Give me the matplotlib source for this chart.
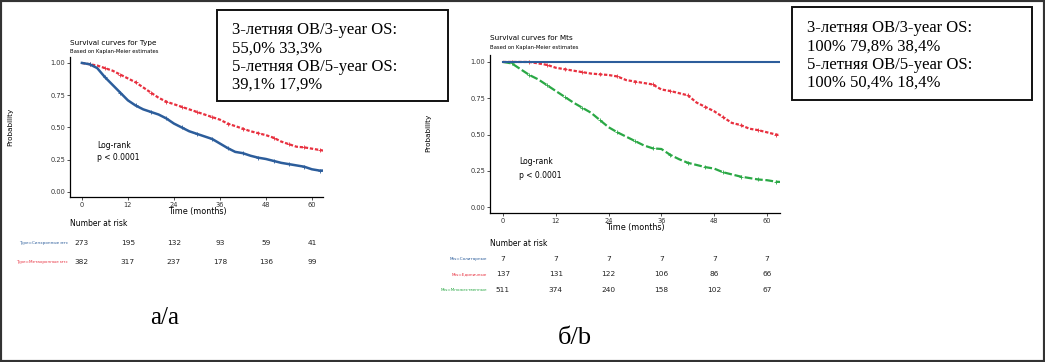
import numpy as np
import matplotlib
matplotlib.use("Agg")
import matplotlib.pyplot as plt
import matplotlib.transforms as mtransforms
from matplotlib.patches import Rectangle

W, H = 1045, 362

# ____ données
months = [0, 2, 4, 6, 8, 10, 12, 14, 16, 18, 20, 22, 24, 26, 28, 30,
          32, 34, 36, 38, 40, 42, 44, 46, 48, 50, 52, 54, 56, 58, 60, 62, 63]

type_sync = [1.00, 0.99, 0.96, 0.89, 0.83, 0.77, 0.71, 0.67, 0.64, 0.62, 0.60, 0.57,
             0.53, 0.50, 0.47, 0.45, 0.43, 0.41, 0.375, 0.34, 0.31, 0.30, 0.28, 0.265,
             0.255, 0.24, 0.225, 0.215, 0.205, 0.195, 0.175, 0.165, 0.165]
type_meta = [1.00, 0.99, 0.98, 0.96, 0.94, 0.91, 0.88, 0.85, 0.81, 0.77, 0.73, 0.70,
             0.68, 0.66, 0.64, 0.62, 0.60, 0.58, 0.56, 0.53, 0.51, 0.49, 0.47, 0.455,
             0.44, 0.42, 0.39, 0.37, 0.35, 0.345, 0.335, 0.325, 0.32]

mts_sol = [1.00] * len(months)
mts_single = [1.00, 1.00, 1.00, 1.00, 0.99, 0.98, 0.96, 0.95, 0.94, 0.93, 0.92, 0.915,
              0.91, 0.90, 0.875, 0.865, 0.855, 0.845, 0.81, 0.80, 0.785, 0.77, 0.72, 0.69,
              0.66, 0.62, 0.58, 0.565, 0.54, 0.53, 0.515, 0.50, 0.495]
mts_multi = [1.00, 0.99, 0.95, 0.91, 0.88, 0.84, 0.80, 0.76, 0.72, 0.685, 0.65, 0.60,
             0.55, 0.515, 0.485, 0.455, 0.425, 0.405, 0.40, 0.36, 0.33, 0.305, 0.29, 0.275,
             0.265, 0.24, 0.225, 0.21, 0.20, 0.19, 0.185, 0.175, 0.173]

risk_times = [0, 12, 24, 36, 48, 60]
risk_type = {"Type=Синхронные мтс": [273, 195, 132, 93, 59, 41],
             "Type=Метахронные мтс": [382, 317, 237, 178, 136, 99]}
risk_mts = {"Mts=Солитарные": [7, 7, 7, 7, 7, 7],
            "Mts=Единичные": [137, 131, 122, 106, 86, 66],
            "Mts=Множественные": [511, 374, 240, 158, 102, 67]}

box_a = "3-летняя ОВ/3-year OS:\n55,0% 33,3%\n5-летняя ОВ/5-year OS:\n39,1% 17,9%"
box_b = "3-летняя ОВ/3-year OS:\n100% 79,8% 38,4%\n5-летняя ОВ/5-year OS:\n100% 50,4% 18,4%"

BLUE, RED, GREEN = "#2c5d9b", "#e8303f", "#2aa845"

fig = plt.figure(figsize=(W / 100, H / 100), dpi=100)


def px(x, y):
    return x / W, 1 - y / H


def make_axes(left, right, top, bottom, xlim, ylim):
    ax = fig.add_axes([left / W, 1 - bottom / H, (right - left) / W, (bottom - top) / H])
    ax.set_xlim(*xlim)
    ax.set_ylim(*ylim)
    ax.spines['top'].set_visible(False)
    ax.spines['right'].set_visible(False)
    ax.spines['left'].set_linewidth(0.9)
    ax.spines['bottom'].set_linewidth(0.9)
    ax.set_xticks(risk_times)
    ax.set_yticks([0, 0.25, 0.5, 0.75, 1.0])
    ax.set_yticklabels(["0.00", "0.25", "0.50", "0.75", "1.00"])
    ax.tick_params(labelsize=4.8, length=2, width=0.6, pad=1.5, colors="#333333")
    ax.set_facecolor("none")
    return ax


def km(ax, s, color, ls, lw=1.6):
    ax.plot(months, s, color=color, ls=ls, lw=lw)
    ax.plot(months[1:-1:2], s[1:-1:2], ls="none", marker="+", ms=2.5, mew=0.6, color=color)


# ______ panneau a
ax1 = make_axes(70, 323, 56.5, 197, (-3.1, 62.9), (-0.04, 1.05))
km(ax1, type_meta, RED, (0, (1.5, 0.8)))
km(ax1, type_sync, BLUE, "-", 1.8)
ax1.text(4, 0.34, "Log-rank", fontsize=5.5)
ax1.text(4, 0.25, "p < 0.0001", fontsize=5.5)

fig.text(*px(70, 43), "Survival curves for Type", fontsize=5.2, va="center")
fig.text(*px(70, 52), "Based on Kaplan-Meier estimates", fontsize=3.8, va="center")
fig.text(*px(10, 127), "Probability", fontsize=5.2, rotation=90, ha="center", va="center")
fig.text(*px(197, 212), "Time (months)", fontsize=5.8, ha="center", va="center")
fig.text(*px(70, 224), "Number at risk", fontsize=5.5, va="center")

tr1 = mtransforms.blended_transform_factory(ax1.transData, fig.transFigure)
for i, (lab, vals) in enumerate(risk_type.items()):
    y = 1 - (243 + i * 19) / H
    fig.text(68 / W, y, lab, fontsize=3.0, color=[BLUE, RED][i], ha="right", va="center")
    for t, v in zip(risk_times, vals):
        ax1.text(t, y, str(v), transform=tr1, fontsize=5.3, ha="center", va="center",
                 color="#222222")

fig.text(*px(165, 318), "а/a", fontsize=18, family="Liberation Serif", ha="center", va="center")

# ______ panneau b
ax2 = make_axes(490, 780, 54.7, 213, (-2.95, 62.95), (-0.041, 1.05))
km(ax2, mts_single, RED, (0, (1.5, 0.8)))
km(ax2, mts_multi, GREEN, (0, (3.5, 1.2)))
ax2.plot(months, mts_sol, color=BLUE, lw=1.5)
ax2.text(3.6, 0.30, "Log-rank", fontsize=5.5)
ax2.text(3.6, 0.20, "p < 0.0001", fontsize=5.5)

fig.text(*px(490, 38), "Survival curves for Mts", fontsize=5.2, va="center")
fig.text(*px(490, 48), "Based on Kaplan-Meier estimates", fontsize=3.8, va="center")
fig.text(*px(428, 133), "Probability", fontsize=5.2, rotation=90, ha="center", va="center")
fig.text(*px(635, 228), "Time (months)", fontsize=5.8, ha="center", va="center")
fig.text(*px(490, 243), "Number at risk", fontsize=5.5, va="center")

tr2 = mtransforms.blended_transform_factory(ax2.transData, fig.transFigure)
for i, (lab, vals) in enumerate(risk_mts.items()):
    y = 1 - (259 + i * 15.5) / H
    fig.text(487 / W, y, lab, fontsize=3.0, color=[BLUE, RED, GREEN][i], ha="right", va="center")
    for t, v in zip(risk_times, vals):
        ax2.text(t, y, str(v), transform=tr2, fontsize=5.3, ha="center", va="center",
                 color="#222222")

fig.text(*px(575, 338), "б/b", fontsize=19, family="Liberation Serif", ha="center", va="center")

# ______ encadrés
for (x0, y0, x1, y1), txt, tx in [((217, 10, 448, 101), box_a, 232),
                                  ((792, 7, 1032, 100), box_b, 807)]:
    fig.patches.append(Rectangle(px(x0, y1), (x1 - x0) / W, (y1 - y0) / H,
                                 transform=fig.transFigure, fill=True, facecolor="white",
                                 edgecolor="#111111", lw=1.4, zorder=5))
    fig.text(*px(tx, (y0 + y1) / 2 + 2), txt, fontsize=12, family="Liberation Serif",
             va="center", linespacing=1.2, zorder=6)

# cadre extérieur
fig.patches.append(Rectangle((0, 0), 1, 1, transform=fig.transFigure, fill=False,
                             edgecolor="#333333", lw=3))

plt.savefig("out.png", dpi=100)
